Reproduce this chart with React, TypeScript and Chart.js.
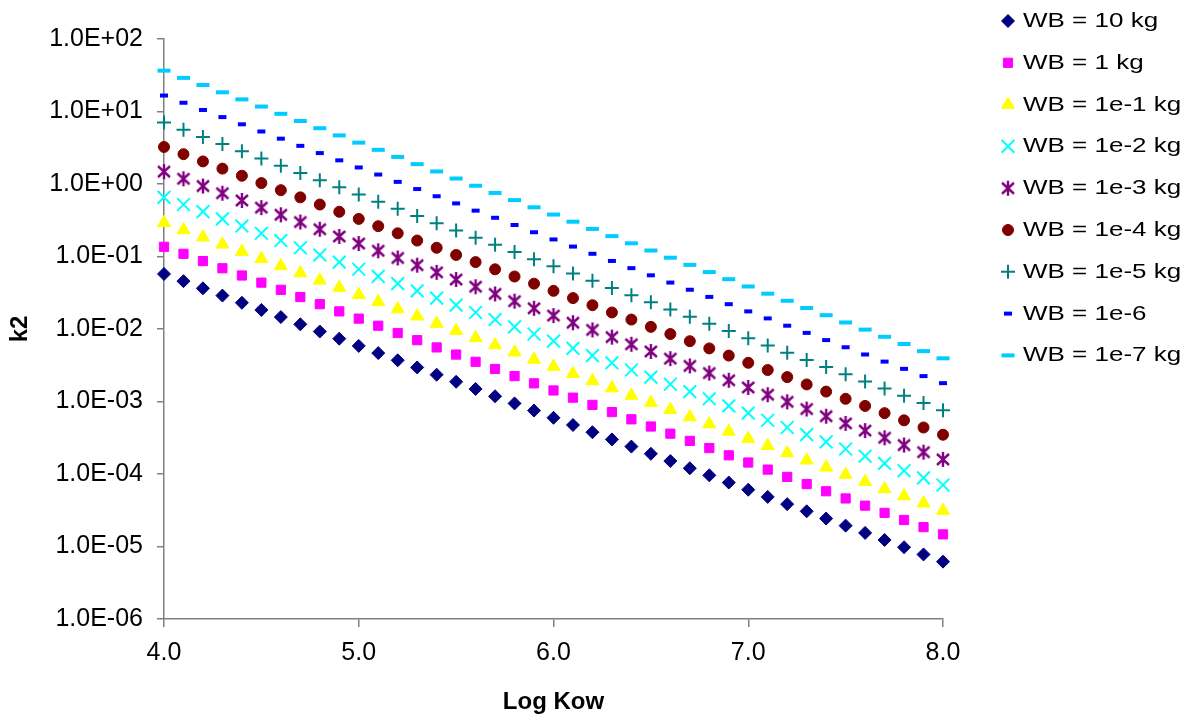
import React, { useEffect, useRef } from 'react';
import { Chart, registerables } from 'chart.js';
import { drawPoint } from 'chart.js/helpers';

Chart.register(...registerables);

// ---------- data ----------
const logKow = [
  4.0, 4.1, 4.2, 4.3, 4.4, 4.5, 4.6, 4.7, 4.8, 4.9,
  5.0, 5.1, 5.2, 5.3, 5.4, 5.5, 5.6, 5.7, 5.8, 5.9,
  6.0, 6.1, 6.2, 6.3, 6.4, 6.5, 6.6, 6.7, 6.8, 6.9,
  7.0, 7.1, 7.2, 7.3, 7.4, 7.5, 7.6, 7.7, 7.8, 7.9,
  8.0,
];

const wb10 = [
  0.0574, 0.0457, 0.0364, 0.0289, 0.0230, 0.0183, 0.0146, 0.0116, 0.00923, 0.00735,
  0.00585, 0.00465, 0.00370, 0.00295, 0.00234, 0.00187, 0.00149, 0.00118, 0.000941, 0.000749,
  5.96e-4, 4.74e-4, 3.77e-4, 3.00e-4, 2.39e-4, 1.90e-4, 1.51e-4, 1.20e-4, 9.58e-5, 7.62e-5,
  6.07e-5, 4.83e-5, 3.84e-5, 3.06e-5, 2.43e-5, 1.94e-5, 1.54e-5, 1.23e-5, 9.76e-6, 7.77e-6,
  6.18e-6,
];
const wb1 = [
  0.136, 0.109, 0.0864, 0.0688, 0.0547, 0.0436, 0.0347, 0.0276, 0.0220, 0.0175,
  0.0139, 0.0111, 0.00880, 0.00701, 0.00557, 0.00444, 0.00353, 0.00281, 0.00224, 0.00178,
  1.42e-3, 1.13e-3, 8.97e-4, 7.14e-4, 5.68e-4, 4.52e-4, 3.60e-4, 2.86e-4, 2.28e-4, 1.81e-4,
  1.44e-4, 1.15e-4, 9.13e-5, 7.27e-5, 5.78e-5, 4.60e-5, 3.66e-5, 2.91e-5, 2.32e-5, 1.85e-5,
  1.47e-5,
];
const wb1e1 = [
  0.292, 0.232, 0.185, 0.147, 0.117, 0.0931, 0.0741, 0.0590, 0.0469, 0.0373,
  0.0297, 0.0237, 0.0188, 0.0150, 0.0119, 0.00948, 0.00755, 0.00601, 0.00478, 0.00380,
  3.03e-3, 2.41e-3, 1.92e-3, 1.53e-3, 1.21e-3, 9.66e-4, 7.69e-4, 6.12e-4, 4.87e-4, 3.87e-4,
  3.08e-4, 2.45e-4, 1.95e-4, 1.55e-4, 1.24e-4, 9.84e-5, 7.83e-5, 6.23e-5, 4.96e-5, 3.95e-5,
  3.14e-5,
];
const wb1e2 = [
  0.655, 0.521, 0.415, 0.330, 0.263, 0.209, 0.166, 0.132, 0.105, 0.0838,
  0.0667, 0.0531, 0.0422, 0.0336, 0.0267, 0.0213, 0.0169, 0.0135, 0.0107, 0.00854,
  6.79e-3, 5.41e-3, 4.30e-3, 3.42e-3, 2.72e-3, 2.17e-3, 1.73e-3, 1.37e-3, 1.09e-3, 8.69e-4,
  6.92e-4, 5.51e-4, 4.38e-4, 3.49e-4, 2.77e-4, 2.21e-4, 1.76e-4, 1.40e-4, 1.11e-4, 8.86e-5,
  7.05e-5,
];
const wb1e3 = [
  1.48, 1.18, 0.937, 0.746, 0.593, 0.472, 0.376, 0.299, 0.238, 0.189,
  0.151, 0.120, 0.0954, 0.0759, 0.0604, 0.0481, 0.0383, 0.0305, 0.0242, 0.0193,
  0.0153, 0.0122, 0.00972, 0.00773, 0.00615, 0.00490, 0.00390, 0.00310, 0.00247, 0.00196,
  1.56e-3, 1.24e-3, 9.90e-4, 7.88e-4, 6.27e-4, 4.99e-4, 3.97e-4, 3.16e-4, 2.51e-4, 2.00e-4,
  1.59e-4,
];
const wb1e4 = [
  3.24, 2.58, 2.05, 1.63, 1.30, 1.03, 0.822, 0.654, 0.521, 0.414,
  0.330, 0.262, 0.209, 0.166, 0.132, 0.105, 0.0837, 0.0666, 0.0530, 0.0422,
  0.0336, 0.0267, 0.0213, 0.0169, 0.0135, 0.0107, 0.00853, 0.00679, 0.00540, 0.00430,
  3.42e-3, 2.72e-3, 2.17e-3, 1.72e-3, 1.37e-3, 1.09e-3, 8.69e-4, 6.91e-4, 5.50e-4, 4.38e-4,
  3.48e-4,
];
const wb1e5 = [
  7.05, 5.61, 4.46, 3.55, 2.83, 2.25, 1.79, 1.42, 1.13, 0.902,
  0.718, 0.571, 0.455, 0.362, 0.288, 0.229, 0.182, 0.145, 0.115, 0.0919,
  0.0731, 0.0582, 0.0463, 0.0368, 0.0293, 0.0233, 0.0186, 0.0148, 0.0118, 0.00936,
  7.45e-3, 5.93e-3, 4.72e-3, 3.75e-3, 2.99e-3, 2.38e-3, 1.89e-3, 1.51e-3, 1.20e-3, 9.53e-4,
  7.59e-4,
];
const wb1e6 = [
  16.6, 13.2, 10.5, 8.37, 6.66, 5.30, 4.22, 3.36, 2.67, 2.12,
  1.69, 1.35, 1.07, 0.852, 0.678, 0.540, 0.429, 0.342, 0.272, 0.216,
  0.172, 0.137, 0.109, 0.0868, 0.0691, 0.0550, 0.0437, 0.0348, 0.0277, 0.0220,
  0.0175, 0.0140, 0.0111, 0.00884, 0.00703, 0.00560, 0.00445, 0.00355, 0.00282, 0.00224,
  0.00179,
];
const wb1e7 = [
  36.6, 29.1, 23.2, 18.4, 14.7, 11.7, 9.29, 7.39, 5.88, 4.68,
  3.72, 2.96, 2.36, 1.88, 1.49, 1.19, 0.946, 0.753, 0.599, 0.477,
  0.379, 0.302, 0.240, 0.191, 0.152, 0.121, 0.0963, 0.0767, 0.0610, 0.0486,
  0.0386, 0.0307, 0.0245, 0.0195, 0.0155, 0.0123, 0.00981, 0.00781, 0.00621, 0.00495,
  0.00394,
];

const seriesLabels = [
  'WB = 10 kg', 'WB = 1 kg', 'WB = 1e-1 kg', 'WB = 1e-2 kg', 'WB = 1e-3 kg',
  'WB = 1e-4 kg', 'WB = 1e-5 kg', 'WB = 1e-6', 'WB = 1e-7 kg',
];

const yTickValues = [1e-6, 1e-5, 1e-4, 1e-3, 1e-2, 1e-1, 1e0, 1e1, 1e2];
const yTickLabels = ['1.0E-06', '1.0E-05', '1.0E-04', '1.0E-03', '1.0E-02', '1.0E-01', '1.0E+00', '1.0E+01', '1.0E+02'];
const xTickValues = [4, 5, 6, 7, 8];
const xTickLabels = ['4.0', '5.0', '6.0', '7.0', '8.0'];

const FONT = "'Liberation Sans', Arial, Helvetica, sans-serif";

function makeAsterisk(color: string): HTMLCanvasElement {
  const c = document.createElement('canvas');
  c.width = 16;
  c.height = 17;
  const g = c.getContext('2d')!;
  g.strokeStyle = color;
  g.lineWidth = 2.4;
  g.beginPath();
  g.moveTo(2, 3); g.lineTo(14, 14);
  g.moveTo(14, 3); g.lineTo(2, 14);
  g.moveTo(8, 1); g.lineTo(8, 16);
  g.stroke();
  return c;
}

const legendPlugin = {
  id: 'customLegend',
  afterDraw(chart: any) {
    const ctx = chart.ctx as CanvasRenderingContext2D;
    const markerX = 1008;
    const textX = 1023;
    const top = 27;
    const step = 41.8;
    chart.data.datasets.forEach((ds: any, i: number) => {
      const y = top + i * step;
      ctx.save();
      const style = ds.pointStyle;
      if (typeof style === 'string') {
        ctx.fillStyle = ds.pointBackgroundColor;
        ctx.strokeStyle = ds.pointBorderColor;
        ctx.lineWidth = ds.pointBorderWidth;
        drawPoint(ctx, { pointStyle: style, radius: ds.pointRadius, rotation: 0, borderWidth: ds.pointBorderWidth } as any, markerX, y - 6);
      } else {
        ctx.drawImage(style, markerX - style.width / 2, y - 6 - style.height / 2);
      }
      ctx.font = `20px ${FONT}`;
      ctx.fillStyle = '#000';
      ctx.textBaseline = 'alphabetic';
      ctx.textAlign = 'left';
      ctx.translate(textX, y);
      ctx.scale(1.3, 1.03);
      ctx.fillText(seriesLabels[i], 0, 0);
      ctx.restore();
    });
  },
};

export default function App() {
  const ref = useRef<HTMLCanvasElement>(null);

  useEffect(() => {
    document.body.style.margin = '0';
    const asterisk = makeAsterisk('#800080');
    const series = [wb10, wb1, wb1e1, wb1e2, wb1e3, wb1e4, wb1e5, wb1e6, wb1e7];
    const styles: any[] = [
      { pointStyle: 'rectRot', color: '#000080', r: 6.5, bw: 1 },
      { pointStyle: 'rect', color: '#FF00FF', r: 6.5, bw: 1 },
      { pointStyle: 'triangle', color: '#FFFF00', r: 7.5, bw: 1 },
      { pointStyle: 'crossRot', color: '#00FFFF', r: 9, bw: 2 },
      { pointStyle: asterisk, color: '#800080', r: 8, bw: 2 },
      { pointStyle: 'circle', color: '#800000', r: 5.5, bw: 1 },
      { pointStyle: 'cross', color: '#008080', r: 7, bw: 2 },
      { pointStyle: 'line', color: '#0000FF', r: 4, bw: 4 },
      { pointStyle: 'line', color: '#00CCFF', r: 6.5, bw: 4 },
    ];
    const datasets = series.map((vals, i) => ({
      label: seriesLabels[i],
      data: vals.map((v, j) => ({ x: logKow[j], y: v })),
      showLine: false,
      pointStyle: styles[i].pointStyle,
      pointRadius: styles[i].r,
      pointHoverRadius: styles[i].r,
      pointBorderWidth: styles[i].bw,
      pointBackgroundColor: styles[i].color,
      pointBorderColor: styles[i].color,
      backgroundColor: styles[i].color,
      borderColor: styles[i].color,
      clip: false as any,
    }));

    const chart = new Chart(ref.current!, {
      type: 'scatter',
      data: { datasets },
      options: {
        animation: false,
        responsive: false,
        devicePixelRatio: 1,
        layout: { padding: { left: 0, top: 39, right: 250, bottom: 0 } },
        plugins: { legend: { display: false }, tooltip: { enabled: false } },
        scales: {
          x: {
            type: 'linear',
            min: 4,
            max: 8,
            afterBuildTicks: (scale: any) => {
              scale.ticks = xTickValues.map((v) => ({ value: v }));
            },
            afterFit: (scale: any) => {
              scale.height = 100;
            },
            ticks: {
              callback: (_v: any, idx: number) => xTickLabels[idx],
              font: { family: FONT, size: 25 },
              color: '#000',
              padding: 11,
              maxRotation: 0,
            },
            grid: { drawOnChartArea: false, drawTicks: true, tickLength: 8, color: '#808080', lineWidth: 1.5 },
            border: { display: true, color: '#808080', width: 1.5 },
            title: {
              display: true,
              text: 'Log Kow',
              font: { family: FONT, size: 24, weight: 'bold' },
              color: '#000',
              padding: { top: 0, bottom: 2 },
            },
          },
          y: {
            type: 'logarithmic',
            min: 1e-6,
            max: 1e2,
            afterBuildTicks: (scale: any) => {
              scale.ticks = yTickValues.map((v) => ({ value: v }));
            },
            afterFit: (scale: any) => {
              scale.width = 164;
            },
            ticks: {
              callback: (_v: any, idx: number) => yTickLabels[idx],
              font: { family: FONT, size: 25 },
              color: '#000',
              padding: 14,
            },
            grid: { drawOnChartArea: false, drawTicks: true, tickLength: 7, color: '#808080', lineWidth: 1.5 },
            border: { display: true, color: '#808080', width: 1.5 },
            title: {
              display: true,
              text: 'k2',
              font: { family: FONT, size: 24, weight: 'bold' },
              color: '#000',
              padding: { top: 6, bottom: 0 },
            },
          },
        },
      },
      plugins: [legendPlugin],
    } as any);
    return () => chart.destroy();
  }, []);

  return (
    <div style={{ width: 1193, height: 719, background: '#fff' }}>
      <canvas ref={ref} width={1193} height={719} style={{ display: 'block' }} />
    </div>
  );
}
